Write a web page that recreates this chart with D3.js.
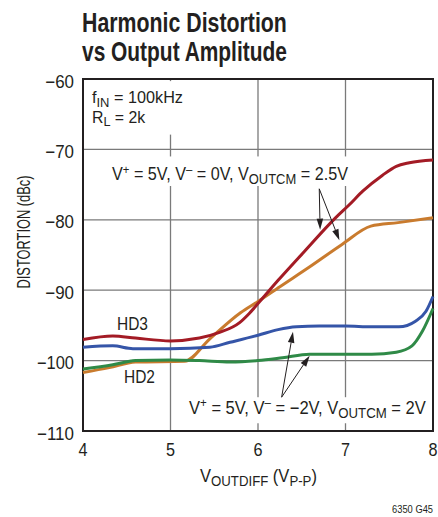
<!DOCTYPE html>
<html><head><meta charset="utf-8">
<script src="https://cdn.jsdelivr.net/npm/d3@7"></script>
<style>
html,body{margin:0;padding:0;background:#fff;}
svg{display:block;}
text{font-family:"Liberation Sans",Arial,"DejaVu Sans",sans-serif;fill:#231f20;}
</style></head>
<body>
<script>
// ---- data ----
const xTicks = [4, 5, 6, 7, 8];
const xTickLabels = ["4", "5", "6", "7", "8"];
const yTicks = [-110, -100, -90, -80, -70, -60];
const yTickLabels = ["\u2212110", "\u2212100", "\u221290", "\u221280", "\u221270", "\u221260"];

// V+ = 5V, V- = 0V, VOUTCM = 2.5V
const hd3AX = [4, 4.34, 4.6, 5.0, 5.33, 5.56, 5.79, 5.9, 6.0, 6.23, 6.53, 6.88, 7.04, 7.2, 7.42, 7.58, 7.73, 8];
const hd3AY = [-97.0, -96.5, -96.8, -97.2, -96.8, -96.0, -94.6, -93.3, -91.9, -88.6, -84.5, -79.8, -77.9, -75.9, -73.7, -72.4, -71.9, -71.5];
const hd2AX = [4, 4.3, 4.6, 5.16, 5.45, 5.8, 6.0, 6.25, 6.6, 6.96, 7.29, 7.6, 8];
const hd2AY = [-101.7, -101.0, -100.2, -100.1, -96.9, -93.2, -91.6, -89.5, -86.6, -83.5, -80.9, -80.4, -79.7];
// V+ = 5V, V- = -2V, VOUTCM = 2V
const hd3BX = [4, 4.34, 4.57, 5.0, 5.45, 5.68, 6.0, 6.23, 6.44, 6.7, 7.0, 7.3, 7.61, 7.8, 7.92, 8];
const hd3BY = [-98.1, -97.9, -98.3, -98.3, -98.1, -97.4, -96.4, -95.6, -95.2, -95.1, -95.1, -95.2, -95.2, -94.4, -93.0, -90.9];
const hd2BX = [4, 4.34, 4.6, 5.0, 5.33, 5.68, 6.0, 6.28, 6.59, 7.0, 7.3, 7.58, 7.76, 7.88, 8];
const hd2BY = [-101.2, -100.6, -100.0, -99.9, -100.0, -100.2, -100.0, -99.6, -99.1, -99.1, -99.1, -98.8, -97.9, -95.8, -92.6];

const series = [
  {xs: hd2AX, ys: hd2AY, color: "#c97b2e"},
  {xs: hd2BX, ys: hd2BY, color: "#2f8a47"},
  {xs: hd3BX, ys: hd3BY, color: "#3555a8"},
  {xs: hd3AX, ys: hd3AY, color: "#a31b25"}
];

// ---- layout ----
const W = 438, H = 517;
const m = {left: 83, right: 433, top: 79, bottom: 431};
const x = d3.scaleLinear().domain([4, 8]).range([m.left, m.right]);
const y = d3.scaleLinear().domain([-110, -60]).range([m.bottom, m.top]);

const svg = d3.select("body").append("svg").attr("width", W).attr("height", H);

// helper: text inside a group, compressed horizontally to a width (or by a factor)
function placed(px, py, rot) {
  return svg.append("g").attr("data-px", px).attr("data-py", py).attr("data-rot", rot || 0);
}
function fit(gSel, target, factor) {
  const t = gSel.select("text").node();
  const w = t.getComputedTextLength ? t.getBBox().width : 0;
  const s = target ? target / w : factor;
  const px = gSel.attr("data-px"), py = gSel.attr("data-py"), rot = gSel.attr("data-rot");
  gSel.attr("transform", `translate(${px},${py}) rotate(${rot}) scale(${s},1)`);
}
function rich(gSel, size, segs, anchor) {
  const t = gSel.append("text").attr("x", 0).attr("y", 0).attr("font-size", size)
    .attr("text-anchor", anchor || "start");
  let shift = 0;
  segs.forEach(s => {
    const sp = t.append("tspan").text(s[0]);
    let target = 0, fs = size;
    if (s[1] === "sub") { target = size * 0.22; fs = size * 0.8; }
    if (s[1] === "sup") { target = -size * 0.38; fs = size * 0.7; }
    if (s[1] === "bold") { sp.attr("font-weight", "bold"); }
    sp.attr("dy", target - shift).attr("font-size", fs);
    shift = target;
  });
  return t;
}

// title
let tg = placed(82, 32); rich(tg, 27.5, [["Harmonic Distortion", "bold"]]); fit(tg, 205);
tg = placed(82, 60.5); rich(tg, 27.5, [["vs Output Amplitude", "bold"]]); fit(tg, 205);

// gridlines
const g = svg.append("g");
g.selectAll(".vg").data(xTicks.slice(1, -1)).join("line")
  .attr("x1", d => x(d)).attr("x2", d => x(d)).attr("y1", m.top).attr("y2", m.bottom)
  .attr("stroke", "#7a7a7a").attr("stroke-width", 1.3);
g.selectAll(".hg").data(yTicks.slice(1, -1)).join("line")
  .attr("y1", d => y(d)).attr("y2", d => y(d)).attr("x1", m.left).attr("x2", m.right)
  .attr("stroke", "#7a7a7a").attr("stroke-width", 1.3);

// white boxes behind annotation labels
const boxes = [
  [4.05, -60.3, 5.2, -67.9],
  [4.3, -71.0, 7.07, -75.2],
  [5.2, -105.2, 7.95, -108.9]
];
svg.append("g").selectAll("rect").data(boxes).join("rect")
  .attr("x", d => x(d[0])).attr("y", d => y(d[1]))
  .attr("width", d => x(d[2]) - x(d[0])).attr("height", d => y(d[3]) - y(d[1]))
  .attr("fill", "#fff");

// frame
svg.append("rect").attr("x", m.left).attr("y", m.top)
  .attr("width", m.right - m.left).attr("height", m.bottom - m.top)
  .attr("fill", "none").attr("stroke", "#231f20").attr("stroke-width", 2);

// curves
const line = d3.line().x(d => x(d[0])).y(d => y(d[1])).curve(d3.curveMonotoneX);
svg.append("g").selectAll("path").data(series).join("path")
  .attr("d", s => line(s.xs.map((v, i) => [v, s.ys[i]])))
  .attr("fill", "none").attr("stroke", s => s.color).attr("stroke-width", 3)
  .attr("stroke-linejoin", "round").attr("stroke-linecap", "butt");

// tick labels
xTicks.forEach((d, i) => {
  const gg = placed(x(d), 456); rich(gg, 18, [[xTickLabels[i]]], "middle"); fit(gg, null, 0.9);
});
yTicks.forEach((d, i) => {
  const gg = placed(74, y(d) + 8.5); rich(gg, 18, [[yTickLabels[i]]], "end"); fit(gg, 37 * yTickLabels[i].length / 4 + (yTickLabels[i].length === 3 ? 1 : 0));
});

// axis titles
let ag0 = placed(200, 482); rich(ag0, 18, [["V"], ["OUTDIFF", "sub"], [" (V"], ["P-P", "sub"], [")"]]); fit(ag0, 117);
ag0 = placed(30, 232, -90); rich(ag0, 18, [["DISTORTION (dBc)"]], "middle"); fit(ag0, 113);

// annotations
let a = placed(92, y(-63.4)); rich(a, 16.5, [["f"], ["IN", "sub"], [" = 100kHz"]]); fit(a, 91);
a = placed(92, y(-66.2)); rich(a, 16.5, [["R"], ["L", "sub"], [" = 2k"]]); fit(a, 54);
a = placed(112, y(-74.4)); rich(a, 18, [["V"], ["+", "sup"], [" = 5V, V"], ["\u2013", "sup"], [" = 0V, V"], ["OUTCM", "sub"], [" = 2.5V"]]); fit(a, 236);
a = placed(189, y(-107.6)); rich(a, 18, [["V"], ["+", "sup"], [" = 5V, V"], ["\u2013", "sup"], [" = \u22122V, V"], ["OUTCM", "sub"], [" = 2V"]]); fit(a, 237);
a = placed(117, y(-95.65)); rich(a, 17.5, [["HD3"]]); fit(a, 31);
a = placed(124, y(-103.2)); rich(a, 17.5, [["HD2"]]); fit(a, 31);
a = placed(433, 513); rich(a, 11, [["6350 G45"]], "end"); fit(a, 41);

// arrows
const arrows = [
  [[6.70, -75.6], [6.71, -81.4]],
  [[6.70, -75.6], [6.93, -82.9]],
  [[6.27, -105.2], [6.40, -95.9]],
  [[6.27, -105.2], [6.59, -99.3]]
];
const agp = svg.append("g");
arrows.forEach(ar => {
  const x0 = x(ar[0][0]), y0 = y(ar[0][1]), x1 = x(ar[1][0]), y1 = y(ar[1][1]);
  const ang = Math.atan2(y1 - y0, x1 - x0);
  const L = 11, Wd = 3.3;
  const bx = x1 - L * Math.cos(ang), by = y1 - L * Math.sin(ang);
  agp.append("line").attr("x1", x0).attr("y1", y0).attr("x2", bx).attr("y2", by)
    .attr("stroke", "#231f20").attr("stroke-width", 1);
  const px = -Math.sin(ang) * Wd, py = Math.cos(ang) * Wd;
  agp.append("path").attr("d", `M${x1},${y1}L${bx + px},${by + py}L${bx - px},${by - py}Z`)
    .attr("fill", "#231f20");
});
</script>
</body></html>
